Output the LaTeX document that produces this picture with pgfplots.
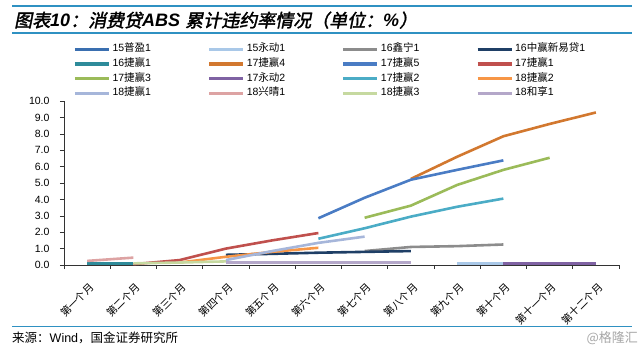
\documentclass[border=0pt]{standalone}
\usepackage{fontspec}
\usepackage{pgfplots}
\pgfplotsset{compat=1.18}
\setmainfont{Liberation Sans}
\newfontfamily\cjk{Noto Sans CJK SC}
\newfontfamily\cjkt[FakeSlant=0.2,FakeBold=2]{Noto Sans CJK SC}
\definecolor{rule}{HTML}{2F91C2}
\definecolor{cA}{HTML}{3A6FB0}
\definecolor{cB}{HTML}{A9C8E8}
\definecolor{cC}{HTML}{8C8C8C}
\definecolor{cD}{HTML}{1F3F66}
\definecolor{cE}{HTML}{2E8B9A}
\definecolor{cF}{HTML}{D2782F}
\definecolor{cG}{HTML}{4A7CC4}
\definecolor{cH}{HTML}{C0504D}
\definecolor{cI}{HTML}{9BBB59}
\definecolor{cJ}{HTML}{7F62A3}
\definecolor{cK}{HTML}{4BACC6}
\definecolor{cL}{HTML}{F79646}
\definecolor{cM}{HTML}{A6B6DA}
\definecolor{cN}{HTML}{DDA3A3}
\definecolor{cO}{HTML}{C6D9A0}
\definecolor{cP}{HTML}{B4A7C9}
\begin{document}
\begin{tikzpicture}
\path[use as bounding box] (0pt,0pt) rectangle (641pt,354pt);
\draw[rule, line width=1.3pt] (12pt,348pt) -- (632pt,348pt);
\draw[rule, line width=1.3pt] (12pt,321pt) -- (632pt,321pt);
\node[anchor=base west, inner sep=0pt] at (14pt,327pt) {\fontsize{18}{20}\selectfont{\cjkt 图表}{\bfseries\itshape 10}{\cjkt ：消费贷}{\bfseries\itshape ABS\ }{\cjkt 累计违约率情况（单位：}{\bfseries\itshape\%}{\cjkt ）}};
\draw[rule, line width=1pt] (12pt,27pt) -- (632pt,27pt);
\node[anchor=base west, inner sep=0pt] at (12pt,12pt) {\fontsize{12.5}{14}\selectfont{\cjk 来源：}Wind{\cjk ，国金证券研究所}};
\node[anchor=base east, inner sep=0pt, text=black!35] at (638pt,11pt) {\fontsize{13}{14}\selectfont\cjk @格隆汇};
\begin{axis}[
  at={(64pt,89pt)}, anchor=south west, scale only axis,
  width=555pt, height=164pt,
  xmin=0.5, xmax=12.5, ymin=0, ymax=10,
  axis lines*=left,
  axis line style={black!80, line width=0.7pt},
  clip=false,
  ytick={0,1,...,10},
  yticklabel style={/pgf/number format/fixed, /pgf/number format/precision=1, /pgf/number format/fixed zerofill, /pgf/number format/assume math mode=true, font=\fontsize{10.5}{12}\selectfont, xshift=-7pt},
  xtick={1,...,12},
  xticklabels={第一个月,第二个月,第三个月,第四个月,第五个月,第六个月,第七个月,第八个月,第九个月,第十个月,第十一个月,第十二个月},
  xticklabel style={font=\fontsize{10.5}{12}\selectfont\cjk, rotate=45, anchor=north east, inner sep=1pt, xshift=-7pt, yshift=-9pt},
  minor xtick={0.5,1.5,...,12.5},
  major x tick style={draw=none},
  tick style={black!80, line width=0.6pt},
  tick align=outside, major tick length=4pt, minor tick length=4pt,
  every axis plot/.append style={line width=2.6pt, line join=round},
  legend columns=4,
  legend image code/.code={\draw[#1, line width=3.2pt] (0pt,0pt) -- (34pt,0pt);},
  legend style={at={(0.0165,1.36)}, anchor=north west, draw=none, fill=none,
    font=\fontsize{10.5}{12}\selectfont, inner sep=0pt, row sep=0pt,
    nodes={text width=93pt, inner xsep=2pt, inner ysep=1.8pt, text height=8pt, text depth=3pt, align=left}},
]
\addlegendimage{cA}\addlegendentry{15{\cjk 普盈}1}
\addplot[cB] coordinates {(9,0.08)(10,0.08)}; \addlegendentry{15{\cjk 永动}1}
\addplot[cC] coordinates {(7,0.85)(8,1.1)(9,1.15)(10,1.25)}; \addlegendentry{16{\cjk 鑫宁}1}
\addplot[cD] coordinates {(4,0.62)(5,0.68)(6,0.75)(7,0.8)(8,0.85)}; \addlegendentry{16{\cjk 中赢新易贷}1}
\addplot[cE] coordinates {(1,0.08)(2,0.08)}; \addlegendentry{16{\cjk 捷赢}1}
\addplot[cF] coordinates {(8,5.25)(9,6.6)(10,7.85)(11,8.6)(12,9.3)}; \addlegendentry{17{\cjk 捷赢}4}
\addplot[cG] coordinates {(6,2.85)(7,4.1)(8,5.2)(9,5.8)(10,6.38)}; \addlegendentry{17{\cjk 捷赢}5}
\addplot[cH] coordinates {(2,0.05)(3,0.3)(4,1.0)(5,1.5)(6,1.95)}; \addlegendentry{17{\cjk 捷赢}1}
\addplot[cI] coordinates {(7,2.88)(8,3.62)(9,4.88)(10,5.8)(11,6.54)}; \addlegendentry{17{\cjk 捷赢}3}
\addplot[cJ] coordinates {(10,0.1)(11,0.1)(12,0.1)}; \addlegendentry{17{\cjk 永动}2}
\addplot[cK] coordinates {(6,1.6)(7,2.24)(8,2.95)(9,3.55)(10,4.05)}; \addlegendentry{17{\cjk 捷赢}2}
\addplot[cL] coordinates {(3,0.15)(4,0.5)(5,0.8)(6,1.05)}; \addlegendentry{18{\cjk 捷赢}2}
\addplot[cM] coordinates {(4,0.3)(5,0.85)(6,1.35)(7,1.73)}; \addlegendentry{18{\cjk 捷赢}1}
\addplot[cN] coordinates {(1,0.25)(2,0.45)}; \addlegendentry{18{\cjk 兴晴}1}
\addplot[cO] coordinates {(2,0.1)(3,0.15)(4,0.22)}; \addlegendentry{18{\cjk 捷赢}3}
\addplot[cP] coordinates {(4,0.15)(5,0.15)(6,0.15)(7,0.15)(8,0.15)}; \addlegendentry{18{\cjk 和享}1}
\end{axis}
\end{tikzpicture}
\end{document}
